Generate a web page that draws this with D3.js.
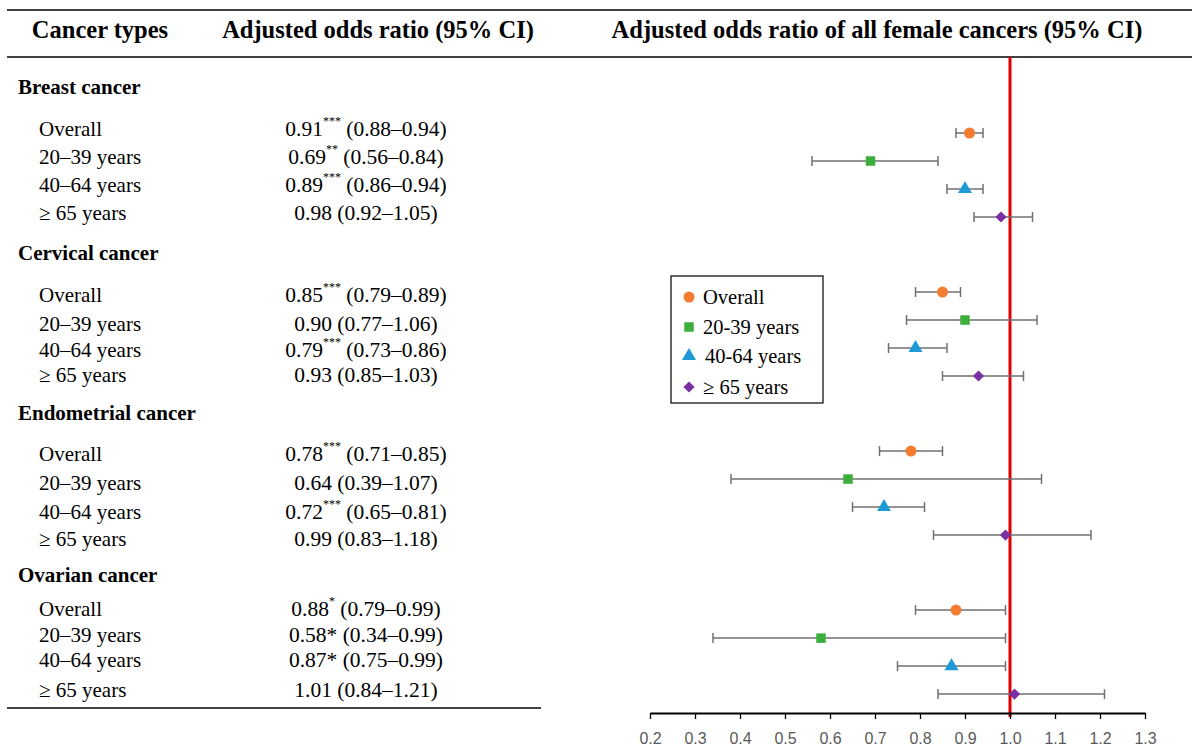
<!DOCTYPE html>
<html>
<head>
<meta charset="utf-8">
<script src="https://cdn.jsdelivr.net/npm/d3@7"></script>
<style>
  body { margin: 0; background: #fff; }
  text { font-family: "Liberation Serif", "Times New Roman", serif; fill: #000; }
  .tick text { font-family: "Liberation Sans", Arial, sans-serif; fill: #595959; }
</style>
</head>
<body>
<div id="container"></div>
<script>
// ---- data ----
const groups = ['Breast cancer', 'Cervical cancer', 'Endometrial cancer', 'Ovarian cancer'];
const ageGroups = ['Overall', '20–39 years', '40–64 years', '≥ 65 years'];
const legendLabels = ['Overall', '20-39 years', '40-64 years', '≥ 65 years'];

// text shown in the table: [estimate, superscript stars, ci]
const orText = [
  [['0.91', '***', '(0.88–0.94)'], ['0.69', '**', '(0.56–0.84)'], ['0.89', '***', '(0.86–0.94)'], ['0.98', '', '(0.92–1.05)']],
  [['0.85', '***', '(0.79–0.89)'], ['0.90', '', '(0.77–1.06)'], ['0.79', '***', '(0.73–0.86)'], ['0.93', '', '(0.85–1.03)']],
  [['0.78', '***', '(0.71–0.85)'], ['0.64', '', '(0.39–1.07)'], ['0.72', '***', '(0.65–0.81)'], ['0.99', '', '(0.83–1.18)']],
  [['0.88', '*', '(0.79–0.99)'], ['0.58*', '', '(0.34–0.99)'], ['0.87*', '', '(0.75–0.99)'], ['1.01', '', '(0.84–1.21)']]
];

// plotted values
const estimate = [[0.91, 0.69, 0.90, 0.98], [0.85, 0.90, 0.79, 0.93], [0.78, 0.64, 0.72, 0.99], [0.88, 0.58, 0.87, 1.01]];
const lower    = [[0.88, 0.56, 0.86, 0.92], [0.79, 0.77, 0.73, 0.85], [0.71, 0.38, 0.65, 0.83], [0.79, 0.34, 0.75, 0.84]];
const upper    = [[0.94, 0.84, 0.94, 1.05], [0.89, 1.06, 0.86, 1.03], [0.85, 1.07, 0.81, 1.18], [0.99, 0.99, 0.99, 1.21]];

const xTicks = [0.2, 0.3, 0.4, 0.5, 0.6, 0.7, 0.8, 0.9, 1.0, 1.1, 1.2, 1.3];
const refValue = 1.0;

const colors = ['#f47c30', '#3cae3c', '#1e9bd7', '#7a2ea0'];
const symbols = [d3.symbolCircle, d3.symbolSquare, d3.symbolTriangle, d3.symbolSquare];
const symbolSize = [95, 90, 85, 62];
const symbolRotate = [0, 0, 0, 45];

// ---- layout ----
const width = 1192, height = 747;
const headerY = [87, 253, 413, 575];
const rowTextY = [[129, 157, 185, 213], [295, 324, 350, 375], [454, 483, 512, 539], [609, 635, 660, 690]];
const groupGap = 5.68;

const svg = d3.select('#container').append('svg')
  .attr('width', width).attr('height', height);

// rules
svg.append('line').attr('x1', 7).attr('x2', width).attr('y1', 10).attr('y2', 10)
  .attr('stroke', '#000').attr('stroke-width', 1.3);
svg.append('line').attr('x1', 7).attr('x2', width).attr('y1', 57).attr('y2', 57)
  .attr('stroke', '#000').attr('stroke-width', 1.3);
svg.append('line').attr('x1', 7).attr('x2', 541).attr('y1', 708).attr('y2', 708)
  .attr('stroke', '#000').attr('stroke-width', 1.3);

// column headers
const heads = [['Cancer types', 100], ['Adjusted odds ratio (95% CI)', 378], ['Adjusted odds ratio of all female cancers (95% CI)', 877]];
svg.selectAll('.head').data(heads).enter().append('text')
  .attr('class', 'head')
  .attr('x', d => d[1])
  .attr('y', 29)
  .attr('text-anchor', 'middle')
  .attr('dominant-baseline', 'central')
  .style('font-weight', 'bold')
  .style('font-size', '24.5px')
  .text(d => d[0]);

// table
groups.forEach((g, gi) => {
  svg.append('text')
    .attr('x', 18).attr('y', headerY[gi])
    .attr('dominant-baseline', 'central')
    .style('font-weight', 'bold').style('font-size', '21px')
    .text(g);
  ageGroups.forEach((a, ai) => {
    const y = rowTextY[gi][ai];
    svg.append('text')
      .attr('x', 39).attr('y', y)
      .attr('dominant-baseline', 'central')
      .style('font-size', '21px')
      .text(a);
    const t = orText[gi][ai];
    const txt = svg.append('text')
      .attr('x', 366).attr('y', y)
      .attr('text-anchor', 'middle')
      .attr('dominant-baseline', 'central')
      .style('font-size', '21.5px');
    txt.append('tspan').text(t[0]);
    if (t[1]) {
      txt.append('tspan').attr('dy', -8).style('font-size', '12px').text(t[1]);
      txt.append('tspan').attr('dy', 8).text(' ' + t[2]);
    } else {
      txt.append('tspan').text(' ' + t[2]);
    }
  });
});

// forest plot
const x = d3.scaleLinear().domain([0.2, 1.3]).range([650, 1145]);
const y = d3.scaleLinear().domain([0, 1]).range([133, 161]);

const rows = [];
groups.forEach((g, gi) => ageGroups.forEach((a, ai) => rows.push({
  gi, ai, est: estimate[gi][ai], lo: lower[gi][ai], hi: upper[gi][ai], pos: gi * groupGap + ai
})));

// reference line
svg.append('line')
  .attr('x1', x(refValue)).attr('x2', x(refValue))
  .attr('y1', 57).attr('y2', 717)
  .attr('stroke', '#e00000').attr('stroke-width', 3);

const err = svg.append('g').attr('stroke', '#707070').attr('stroke-width', 1.5);
err.selectAll('.ci').data(rows).enter().append('line')
  .attr('x1', d => x(d.lo)).attr('x2', d => x(d.hi))
  .attr('y1', d => y(d.pos)).attr('y2', d => y(d.pos));
err.selectAll('.capl').data(rows).enter().append('line')
  .attr('x1', d => x(d.lo)).attr('x2', d => x(d.lo))
  .attr('y1', d => y(d.pos) - 5).attr('y2', d => y(d.pos) + 5);
err.selectAll('.caph').data(rows).enter().append('line')
  .attr('x1', d => x(d.hi)).attr('x2', d => x(d.hi))
  .attr('y1', d => y(d.pos) - 5).attr('y2', d => y(d.pos) + 5);

svg.selectAll('.pt').data(rows).enter().append('path')
  .attr('class', 'pt')
  .attr('d', d => d3.symbol().type(symbols[d.ai]).size(symbolSize[d.ai])())
  .attr('transform', d => `translate(${x(d.est)},${y(d.pos)}) rotate(${symbolRotate[d.ai]})`)
  .attr('fill', d => colors[d.ai]);

// axis
const xAxis = d3.axisBottom(x).tickValues(xTicks).tickFormat(d3.format('.1f'))
  .tickSize(6).tickSizeOuter(0).tickPadding(14);
const ax = svg.append('g').attr('transform', 'translate(0,713)').call(xAxis);
ax.select('.domain').attr('stroke', '#000').attr('stroke-width', 2);
ax.selectAll('.tick line').attr('stroke', '#000').attr('stroke-width', 1.3);
ax.selectAll('.tick text').style('font-size', '16px');

// legend
const lg = svg.append('g').attr('transform', 'translate(671,276)');
lg.append('rect').attr('width', 152).attr('height', 127)
  .attr('fill', '#fff').attr('stroke', '#000').attr('stroke-width', 1.2);
const legY = [21, 51, 80, 111];
legendLabels.forEach((l, i) => {
  lg.append('path')
    .attr('d', d3.symbol().type(symbols[i]).size(symbolSize[i])())
    .attr('transform', `translate(18,${legY[i]}) rotate(${symbolRotate[i]})`)
    .attr('fill', colors[i]);
  lg.append('text')
    .attr('x', i === 2 ? 34 : 32).attr('y', legY[i])
    .attr('dominant-baseline', 'central')
    .style('font-size', '20.5px')
    .text(l);
});
</script>
</body>
</html>
